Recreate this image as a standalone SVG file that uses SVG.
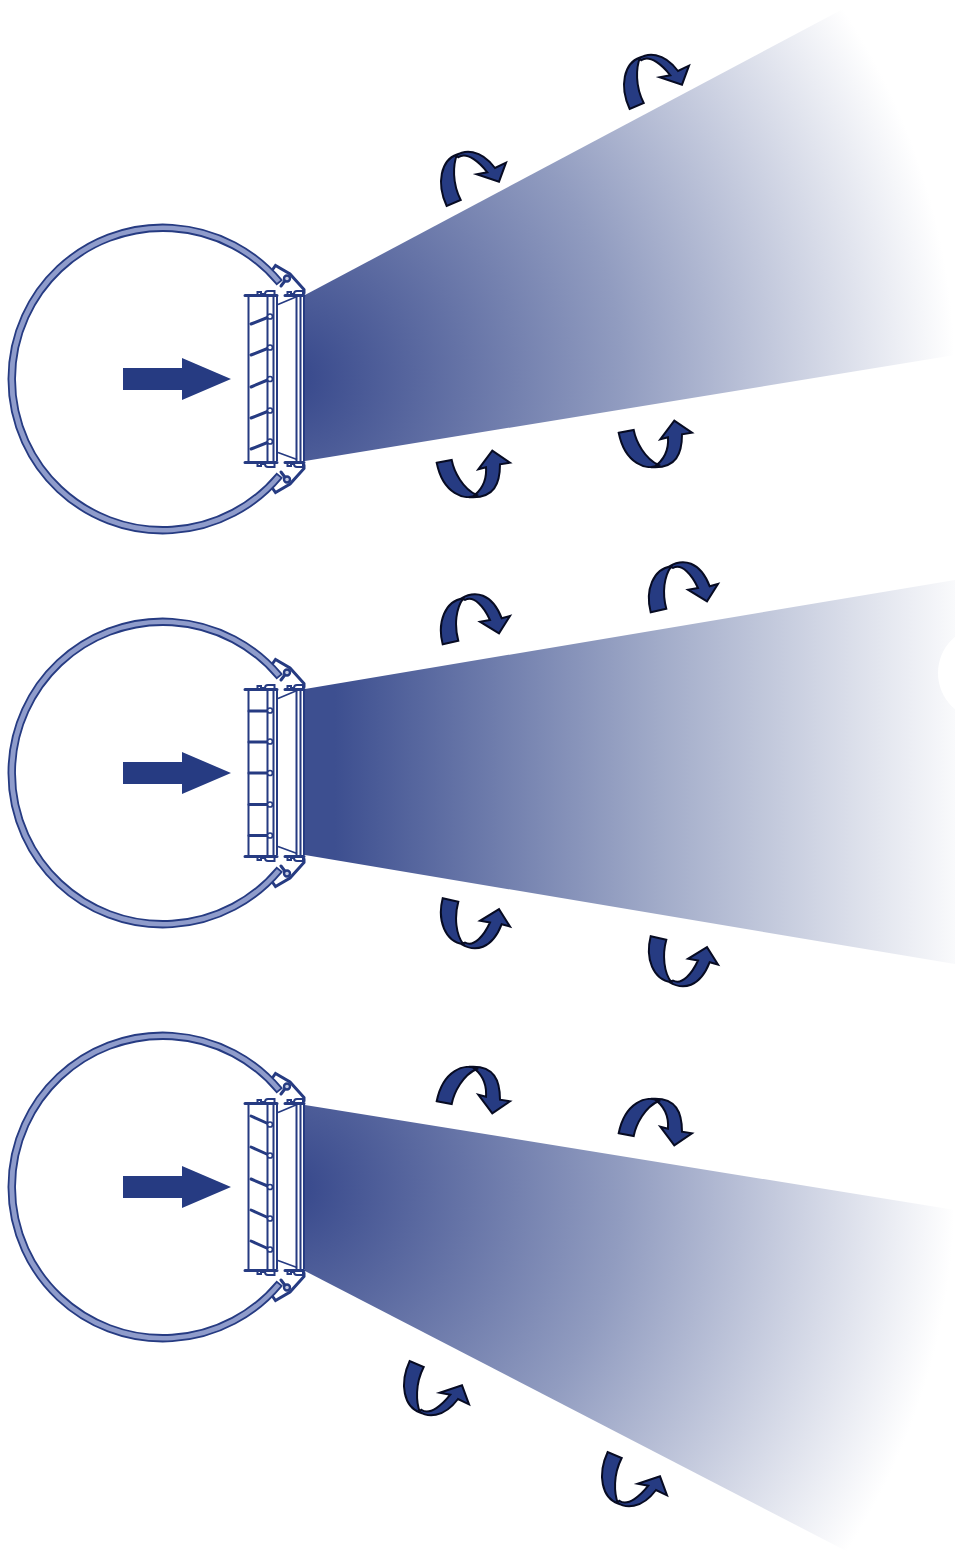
<svg xmlns="http://www.w3.org/2000/svg" width="955" height="1553" viewBox="0 0 955 1553">
<style>
.ring{fill:#8f9ccb;stroke:#263b82;stroke-width:1.8}
.l{fill:none;stroke:#263b82;stroke-width:2}
.th{fill:none;stroke:#263b82;stroke-width:1.6}
.t{fill:none;stroke:#263b82;stroke-width:3;stroke-linecap:round}
.b{fill:none;stroke:#263b82;stroke-width:3;stroke-linecap:round}
.p{fill:#fff;stroke:#263b82;stroke-width:1.7}
.h{fill:#c5cbe2;stroke:#263b82;stroke-width:2.4}
.flow{fill:#263b82}
.rib{fill:#263b82;stroke:#070b22;stroke-width:2;stroke-linejoin:miter}
</style>
<defs>
<radialGradient id="g1" gradientUnits="userSpaceOnUse" cx="290" cy="378" r="665">
<stop offset="0.03" stop-color="#3b4c8e"/><stop offset="0.5" stop-color="#919cc0"/><stop offset="1" stop-color="#fff"/>
</radialGradient>
<radialGradient id="g3" gradientUnits="userSpaceOnUse" cx="290" cy="1188" r="665">
<stop offset="0.03" stop-color="#3b4c8e"/><stop offset="0.5" stop-color="#919cc0"/><stop offset="1" stop-color="#fff"/>
</radialGradient>
<linearGradient id="g2" gradientUnits="userSpaceOnUse" x1="335" y1="0" x2="975" y2="0">
<stop offset="0" stop-color="#3d4f90"/><stop offset="0.5" stop-color="#a0aac8"/><stop offset="1" stop-color="#fff"/>
</linearGradient>
<g id="body">
<path class="ring" d="M281.700 280.200A154.500 154.500 0 1 0 281.700 477.800L276.700 473.800A148 148 0 1 1 276.700 284.200Z"/>
<path class="flow" d="M123 368H182V358L231 379L182 400V390H123Z"/>
<path class="l" d="M248.500 296V461M267.500 296V461M273.500 296V461M277 296V461M296.500 296V461M300.500 296V461M304 296V461"/>
<path class="t" d="M245 295.500H277M285 295.500H304M245 462.500H277M285 462.500H304"/>
<path class="l" d="M257.500 295V292H261V294H265Q265 291 268 291H274.500V295M287.500 295V292H291V294H294Q294 291 297 291H303V295"/>
<path class="l" d="M257.500 463V466H261V464H265Q265 467 268 467H274.500V463M287.500 463V466H291V464H294Q294 467 297 467H303V463"/>
<path class="th" d="M278 304.500L297 296.500M278 452.500L297 459.500"/>
<path class="t" d="M273 269L275.500 265.500L290 274L304 289.500V293M273 489L275.500 492.500L290 484L304 468.500V465"/>
<path class="t" d="M281 286L287 278M281 472L287 480"/>
<circle class="h" cx="287" cy="278.500" r="3"/>
<circle class="h" cx="287" cy="479.500" r="3"/>
</g>
<g id="pins">
<circle class="p" cx="270" cy="316.500" r="2.500"/><circle class="p" cx="270" cy="347.500" r="2.500"/><circle class="p" cx="270" cy="379" r="2.500"/><circle class="p" cx="270" cy="410.500" r="2.500"/><circle class="p" cx="270" cy="441.500" r="2.500"/>
</g>
<path id="a1" d="M446.700 206C436 183 441 160 457 154.500C453 165 452 183 460.700 200ZM456 155.500C464 150 480 148 495 168L506 162.700L499 181.700L476.700 174.300L487.300 172.300C480 163 467 151 458.300 157.300Z"/>
<path id="a3" d="M436.700 462.700L451.700 460C454 472 463 489 476.700 495C465 501 443 494 436.700 462.700ZM471.700 497.300C481 491 487 482 486 467.300L478.300 469.300L492.300 450.700L510 462.700L500 464.300C500 484 494 498 471.700 497.300Z"/>
<path id="a5" d="M442.700 644.300C437 622 445 601 463.300 598.300C456 608 454 625 458.300 640.700ZM461 598.500C475 590 492 593 501.700 618.300L510 616L499 633.300L480 621.700L490 620C484 607 474 595 465 600Z"/>
</defs>
<g id="beams">
<path fill="url(#g1)" d="M305 295L860 0H955V355L305 461Z"/>
<path fill="url(#g2)" d="M305 689L955 580V964L305 855Z"/>
<circle cx="985" cy="673" r="47" fill="#fff"/>
<path fill="url(#g3)" d="M305 1105L955 1210V1553H850L305 1271Z"/>
</g>
<g id="unit1"><use href="#body"/>
<path class="b" d="M251 324L270 316.500M251 355L270 347.500M251 387L270 379M251 418L270 410.500M251 449L270 441.500"/>
<use href="#pins"/></g>
<g id="unit2" transform="translate(0 394)"><use href="#body"/>
<path class="b" d="M249 317H270M249 348H270M249 379H270M249 410.500H270M249 441.500H270"/>
<use href="#pins"/></g>
<g id="unit3" transform="translate(0 808)"><use href="#body"/>
<path class="b" d="M251 308L270 316.500M251 339L270 347.500M251 371L270 379M251 402L270 410.500M251 433L270 441.500"/>
<use href="#pins"/></g>
<g id="connectors">
<use class="rib" href="#a1"/>
<use class="rib" href="#a1" transform="translate(183 -97)"/>
<use class="rib" href="#a3"/>
<use class="rib" href="#a3" transform="translate(182 -30)"/>
<use class="rib" href="#a5"/>
<use class="rib" href="#a5" transform="translate(208 -32)"/>
<use class="rib" href="#a5" transform="matrix(1 0 0 -1 0 1542.500)"/>
<use class="rib" href="#a5" transform="matrix(1 0 0 -1 208 1580.500)"/>
<use class="rib" href="#a3" transform="matrix(1 0 0 -1 0 1564)"/>
<use class="rib" href="#a3" transform="matrix(1 0 0 -1 182 1596)"/>
<use class="rib" href="#a1" transform="matrix(1 0 0 -1 -37 1567)"/>
<use class="rib" href="#a1" transform="matrix(1 0 0 -1 161 1658)"/>
</g>
</svg>
